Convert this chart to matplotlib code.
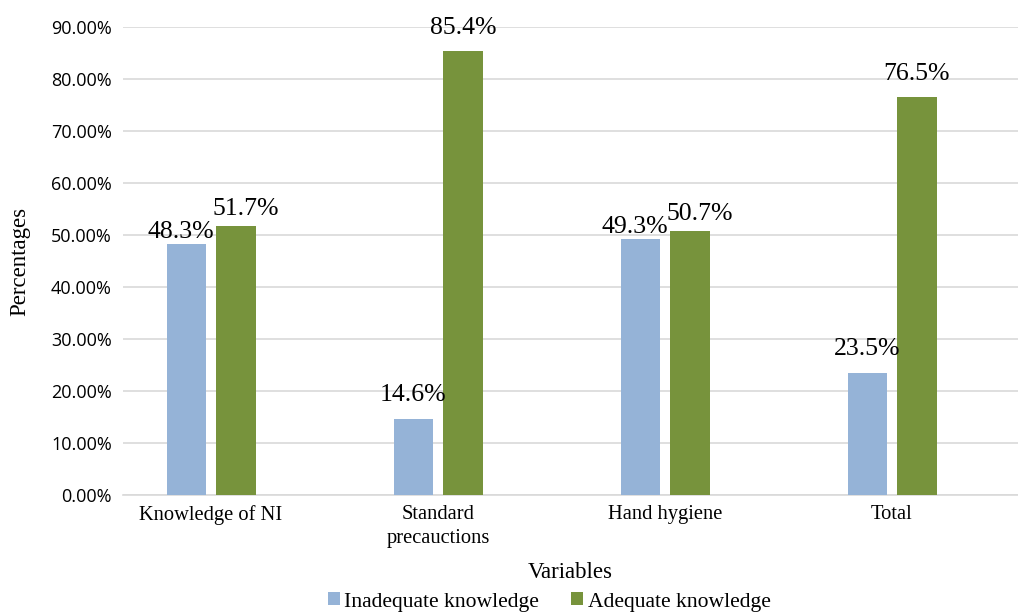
import matplotlib.pyplot as plt
import numpy as np
from matplotlib.ticker import FuncFormatter

categories = ["Knowledge of NI", "Standard\nprecauctions", "Hand hygiene", "Total"]
inadequate = [48.3, 14.6, 49.3, 23.5]
adequate = [51.7, 85.4, 50.7, 76.5]
y_ticks = [0, 10, 20, 30, 40, 50, 60, 70, 80, 90]

blue = "#95B3D7"
green = "#77933C"
serif = "Liberation Serif"

fig = plt.figure(figsize=(10.18, 6.13), dpi=100)
ax = fig.add_axes([0.1208, 0.1925, 0.8792, 0.7635])

x = np.arange(len(categories))
w = 0.172
b1 = ax.bar(x - 0.11, inadequate, w, color=blue, label="Inadequate knowledge", zorder=3)
b2 = ax.bar(x + 0.11, adequate, w, color=green, label="Adequate knowledge", zorder=3)

# data labels; push apart sideways when the two bars are about the same height
for i in range(len(categories)):
    close = abs(adequate[i] - inadequate[i]) < 10
    dx1, dx2 = (-5, 10) if close else (0, 0)
    dy1, dy2 = (1, 6) if close else (13, 12)
    for rect, v, dx, dy in ((b1[i], inadequate[i], dx1, dy1), (b2[i], adequate[i], dx2, dy2)):
        ax.annotate(f"{v}%", (rect.get_x() + rect.get_width() / 2, v),
                    xytext=(dx, dy), textcoords="offset pixels",
                    ha="center", va="bottom", fontsize=18.5, family=serif, zorder=4)

ax.set_xlim(-0.388, 3.555)
ax.set_ylim(0, 90)
ax.set_yticks(y_ticks)
ax.yaxis.set_major_formatter(FuncFormatter(lambda v, p: f"{v:.2f}%"))
ax.set_xticks(x)
ax.set_xticklabels(categories, fontsize=14.8, family=serif, linespacing=1.35)

ax.grid(axis="y", color="#d9d9d9", linewidth=1.2, zorder=0)
for s in ["top", "right", "left"]:
    ax.spines[s].set_visible(False)
ax.spines["bottom"].set_color("#d9d9d9")
ax.spines["bottom"].set_linewidth(1.2)
ax.tick_params(axis="both", length=0)
ax.tick_params(axis="y", labelsize=13, pad=8)
ax.tick_params(axis="x", pad=7)
for lbl in ax.get_yticklabels():
    lbl.set_family("Open Sans")

ax.set_ylabel("Percentages", fontsize=16.5, family=serif)
ax.yaxis.set_label_coords(-0.103, 0.5)
ax.set_xlabel("Variables", fontsize=16.5, family=serif)
ax.xaxis.set_label_coords(0.5, -0.144)

fig.legend(handles=[b1, b2], loc="center", bbox_to_anchor=(549 / 1018, 1 - 602 / 613),
           ncol=2, frameon=False, prop={"family": serif, "size": 15.6},
           handlelength=0.55, handleheight=0.55, handletextpad=0.2, columnspacing=1.5,
           borderaxespad=0, borderpad=0)

fig.savefig("out.png", dpi=100)
